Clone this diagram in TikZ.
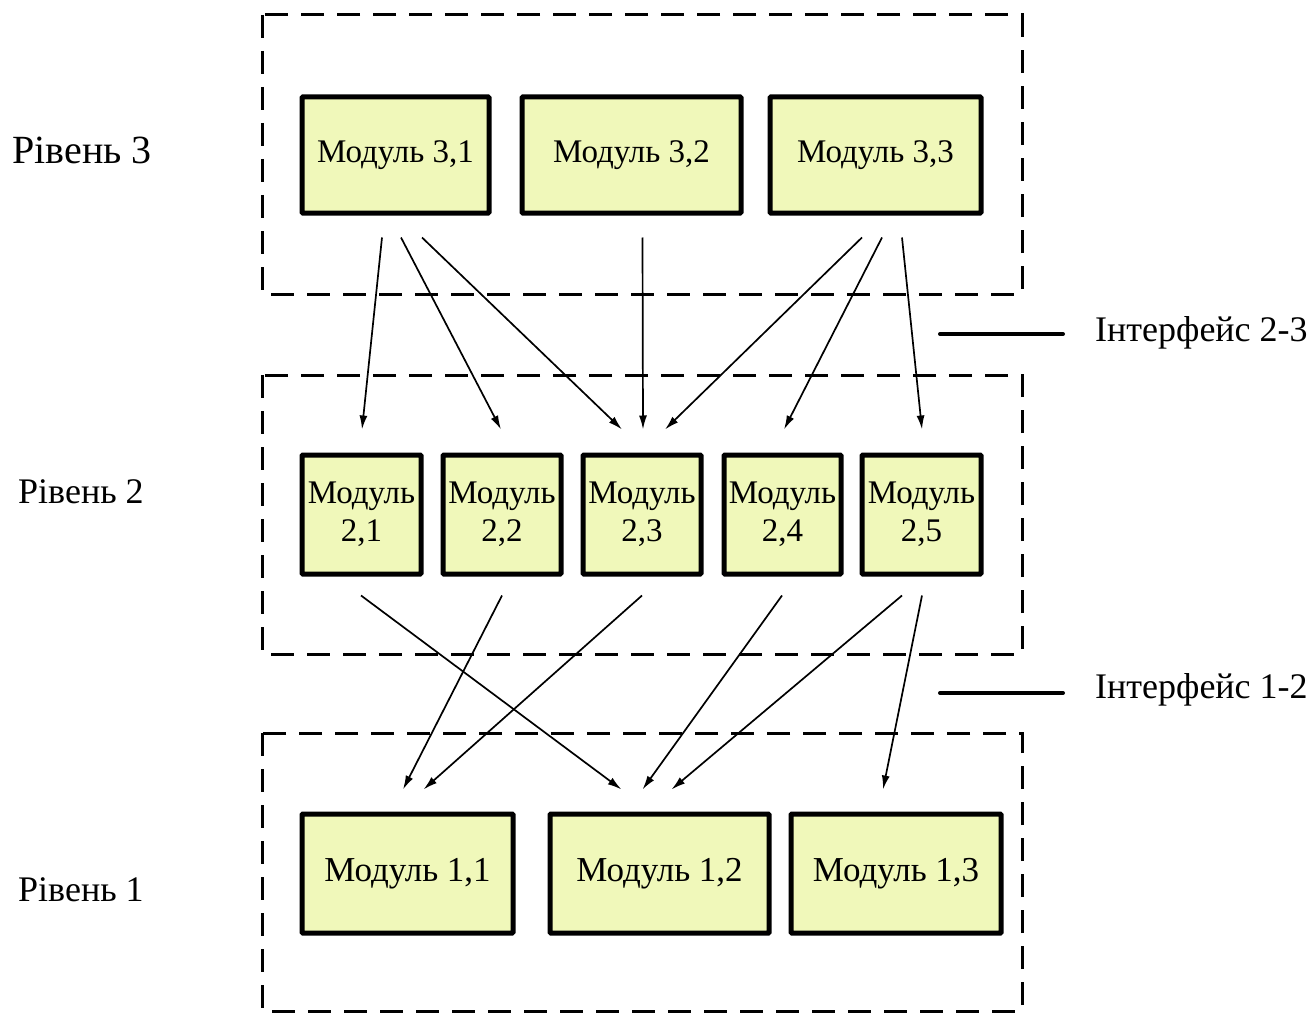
\documentclass[tikz,border=0pt]{standalone}
\usepackage{fontspec}
\setmainfont{Liberation Serif}
\usetikzlibrary{arrows.meta}
\definecolor{modfill}{RGB}{240,248,186}
\tikzset{
  modbox/.style={draw=black, line width=5pt, fill=modfill, inner sep=0pt, align=center,
    minimum height=#1, rounded corners=0.8pt},
  lvlframe/.style={draw=black, line width=3pt, dash pattern=on 23pt off 13pt},
  arr/.style={-{Latex[length=14pt,width=8pt]}, line width=1.7pt},
  lbl/.style={anchor=west, inner sep=0pt},
  ifline/.style={line width=4pt, line cap=round},
}
\begin{document}
\begin{tikzpicture}[x=1pt,y=-1pt]
\useasboundingbox (0,0) rectangle (1310,1014);
% level frames
\draw[lvlframe] (262,15) rectangle (1022,294);
\draw[lvlframe] (262,375) rectangle (1022,654);
\draw[lvlframe] (262,733) rectangle (1022,1011);
% level 3
\begin{scope}[every node/.append style={font=\fontsize{33}{38}\selectfont}]
\node[modbox=116pt, minimum width=187pt] (m31) at (395.5,155) {Модуль 3,1};
\node[modbox=116pt, minimum width=219pt] (m32) at (631.5,155) {Модуль 3,2};
\node[modbox=116pt, minimum width=211pt] (m33) at (875.5,155) {Модуль 3,3};
\end{scope}
% level 2
\begin{scope}[every node/.append style={font=\fontsize{33}{38}\selectfont}]
\node[modbox=119pt, minimum width=119pt] (m21) at (361.5,514.5) {Модуль\\2,1};
\node[modbox=119pt, minimum width=118pt] (m22) at (502,514.5) {Модуль\\2,2};
\node[modbox=119pt, minimum width=118pt] (m23) at (642,514.5) {Модуль\\2,3};
\node[modbox=119pt, minimum width=117pt] (m24) at (782.5,514.5) {Модуль\\2,4};
\node[modbox=119pt, minimum width=119pt] (m25) at (921.5,514.5) {Модуль\\2,5};
\end{scope}
% level 1
\begin{scope}[every node/.append style={font=\fontsize{35}{40}\selectfont}]
\node[modbox=119pt, minimum width=211pt] (m11) at (407.5,873.5) {Модуль 1,1};
\node[modbox=119pt, minimum width=219pt] (m12) at (659.5,873.5) {Модуль 1,2};
\node[modbox=119pt, minimum width=210pt] (m13) at (896,873.5) {Модуль 1,3};
\end{scope}
% level labels
\node[lbl, font=\fontsize{40}{44}\selectfont] (l3) at (12,150) {Рівень 3};
\node[lbl, font=\fontsize{36}{40}\selectfont] (l2) at (18,492) {Рівень 2};
\node[lbl, font=\fontsize{36}{40}\selectfont] (l1) at (18,890) {Рівень 1};
% interfaces
\node[lbl, font=\fontsize{36}{40}\selectfont] (i23) at (1095,333) {Інтерфейс 2-3};
\node[lbl, font=\fontsize{36}{40}\selectfont] (i12) at (1095,690) {Інтерфейс 1-2};
\coordinate (i23a) at (940,334);
\coordinate (i12a) at (940,693);
\draw[ifline] (i23a) -- ([xshift=-32pt,yshift=-1pt]i23.west);
\draw[ifline] (i12a) -- ([xshift=-32pt,yshift=-3pt]i12.west);
% arrows level 3 -> level 2
\draw[arr] ([xshift=-13.5pt,yshift=-22pt]m31.south) -- ([xshift=0.5pt,yshift=23pt]m21.north);
\draw[arr] ([xshift=5.5pt,yshift=-22pt]m31.south) -- ([xshift=-1pt,yshift=23pt]m22.north);
\draw[arr] ([xshift=26.5pt,yshift=-22pt]m31.south) -- ([xshift=-20pt,yshift=23pt]m23.north);
\draw[arr] ([xshift=11pt,yshift=-22pt]m32.south) -- ([xshift=1pt,yshift=23pt]m23.north);
\draw[arr] ([xshift=-13.5pt,yshift=-22pt]m33.south) -- ([xshift=23pt,yshift=23pt]m23.north);
\draw[arr] ([xshift=6.5pt,yshift=-22pt]m33.south) -- ([xshift=1.5pt,yshift=23pt]m24.north);
\draw[arr] ([xshift=26.5pt,yshift=-22pt]m33.south) -- ([xshift=0.5pt,yshift=23pt]m25.north);
% arrows level 2 -> level 1
\draw[arr] ([xshift=-0.5pt,yshift=-19pt]m21.south) -- ([xshift=-38pt,yshift=22pt]m12.north);
\draw[arr] ([xshift=0pt,yshift=-19pt]m22.south) -- ([xshift=-4.5pt,yshift=22pt]m11.north);
\draw[arr] ([xshift=0pt,yshift=-19pt]m23.south) -- ([xshift=16pt,yshift=22pt]m11.north);
\draw[arr] ([xshift=-0.5pt,yshift=-19pt]m24.south) -- ([xshift=-17pt,yshift=22pt]m12.north);
\draw[arr] ([xshift=-19.5pt,yshift=-19pt]m25.south) -- ([xshift=12pt,yshift=22pt]m12.north);
\draw[arr] ([xshift=0.5pt,yshift=-19pt]m25.south) -- ([xshift=-13pt,yshift=22pt]m13.north);
\end{tikzpicture}
\end{document}
